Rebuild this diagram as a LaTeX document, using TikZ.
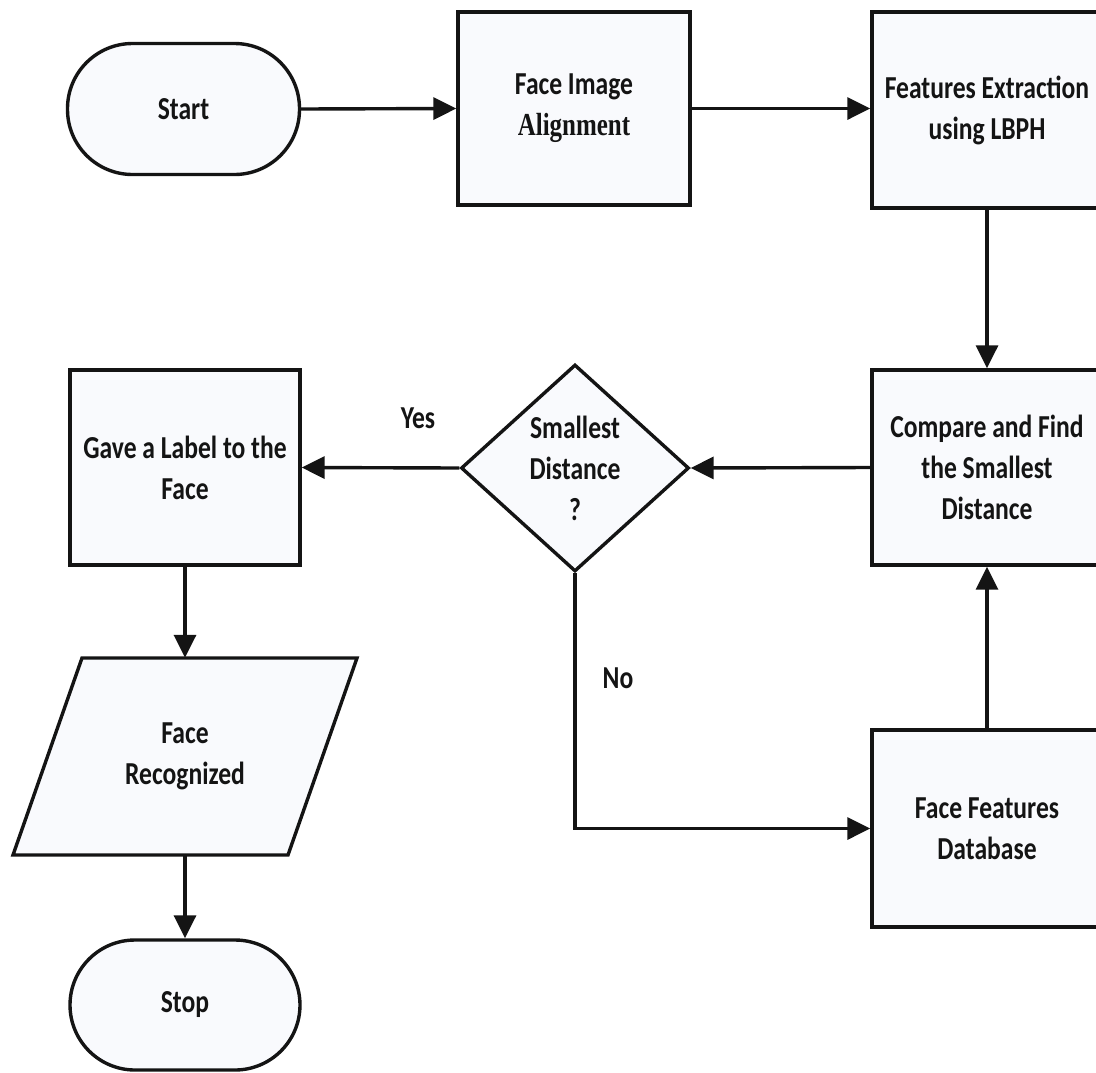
\documentclass[tikz,border=0pt]{standalone}
\usepackage{fontspec}
\setmainfont{Carlito}[FakeStretch=0.80]
\newfontfamily\altserif{Liberation Serif}[FakeStretch=0.78]
\usetikzlibrary{arrows.meta,shapes.geometric}
\definecolor{boxfill}{RGB}{249,250,253}
\definecolor{ink}{RGB}{20,20,20}
\tikzset{
  base/.style={draw=ink, line width=3.4pt, fill=boxfill, align=center, text=ink,
    font=\bfseries\fontsize{32}{41}\selectfont, inner sep=0pt},
  procbox/.style={base, rectangle, minimum width=230pt, minimum height=195pt},
  termbox/.style={base, rectangle, rounded corners=65pt, minimum width=232pt, minimum height=131pt},
  decbox/.style={base, diamond, minimum width=228pt, minimum height=207pt, aspect=1.1},
  txt/.style={align=center, text=ink, font=\bfseries\fontsize{32}{41}\selectfont, inner sep=0pt},
  flow/.style={draw=ink, line width=3.4pt, -{Triangle[length=23pt,width=22pt]}},
}
\begin{document}
\begin{tikzpicture}[x=1pt,y=-1pt]
\useasboundingbox (0,0) rectangle (1096,1072);
% nodes
\node[termbox] (start) at (183.5,109) {Start};
\node[procbox, minimum width=232pt, minimum height=193pt] (align) at (574,108.5) {Face Image\\{\altserif\bfseries Alignment}};
\node[procbox, minimum width=238pt, minimum height=196pt] (feat) at (991,110) {\hspace*{-8pt}Features Extraction\\\hspace*{-8pt}using LBPH};
\node[procbox, minimum width=238pt] (comp) at (991,467.5) {\hspace*{-8pt}Compare and Find\\\hspace*{-8pt}the Smallest\\\hspace*{-8pt}Distance};
\node[decbox] (dec) at (575,468) {};
\node[txt] (dectxt) at (575,468) {Smallest\\Distance\\?};
\node[procbox] (label) at (185,467.5) {Gave a Label to the\\Face};
\node[procbox, minimum width=238pt, minimum height=197pt] (db) at (991,828.5) {\hspace*{-8pt}Face Features\\\hspace*{-8pt}Database};
% parallelogram
\coordinate (pTL) at (82,658);
\coordinate (pTR) at (357,658);
\coordinate (pBR) at (288,855);
\coordinate (pBL) at (13,855);
\draw[draw=ink, line width=3.4pt, fill=boxfill, line join=miter] (pTL) -- (pTR) -- (pBR) -- (pBL) -- cycle;
\node[txt, minimum width=200pt, minimum height=197pt] (recog) at (185,756.5) {Face\\Recognized};
\node[termbox, minimum width=230pt, minimum height=130pt] (stop) at (185,1005) {Stop};
% labels
\node[txt] (yes) at (418,418) {Yes};
\node[txt] (no) at (618,678) {No};
% connectors
\draw[flow] (start.east) -- (align.west);
\draw[flow] (align.east) -- (feat.west |- align.east);
\draw[flow] ([xshift=-4pt]feat.south) -- ([xshift=-4pt]comp.north);
\draw[flow] (comp.west) -- (dec.east);
\draw[flow] (dec.west) -- (label.east);
\draw[flow] (label.south) -- (recog.north);
\draw[flow] (recog.south) -- (stop.north);
\draw[flow] (dec.south) |- (db.west);
\draw[flow] ([xshift=-4pt]db.north) -- ([xshift=-4pt]comp.south);
\end{tikzpicture}
\end{document}
